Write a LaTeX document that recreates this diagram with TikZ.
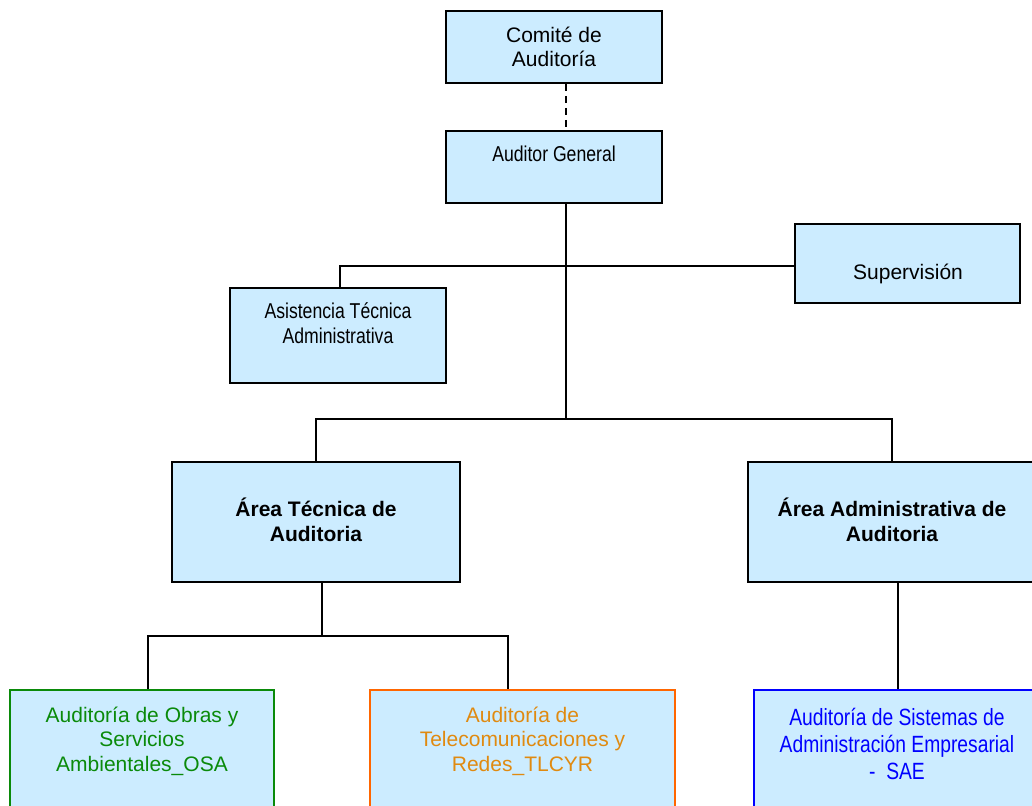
\documentclass[tikz,border=0pt]{standalone}
\usepackage{fontspec}
\setmainfont{Liberation Sans}
\newfontfamily\narrowfont[FakeStretch=0.82]{Liberation Sans}
\definecolor{boxfill}{HTML}{CCECFF}
\definecolor{osagreen}{HTML}{0A8A0A}
\definecolor{tlcborder}{HTML}{FF6600}
\definecolor{tlctext}{HTML}{E08A10}
\definecolor{saeblue}{HTML}{0000FF}
\newcommand{\mlines}[1]{\begin{tabular}[t]{@{}c@{}}#1\end{tabular}}
\begin{document}
\begin{tikzpicture}[x=1pt,y=-1pt,
  box/.style={draw=black, line width=2pt, fill=boxfill, inner sep=0pt},
  wh/.style 2 args={minimum width=#1pt, minimum height=#2pt},
  txt/.style={anchor=base, inner sep=0pt, font=\fontsize{21}{24.3}\selectfont},
  narrowtxt/.style={anchor=base, inner sep=0pt, font=\narrowfont\fontsize{21.5}{25}\selectfont},
  boldtxt/.style={anchor=base, inner sep=0pt, font=\bfseries\fontsize{21}{24.3}\selectfont},
  conn/.style={draw=black, line width=2pt},
  dashconn/.style={draw=black, line width=2pt, dash pattern=on 7pt off 5pt}]
\useasboundingbox (0,0) rectangle (1032,805);

% boxes
\node[box, wh={216}{72}] (comite) at (554,47) {};
\node[box, wh={216}{72}] (ag) at (554,167) {};
\node[box, wh={225}{79}] (sup) at (907.5,263.5) {};
\node[box, wh={216}{95}] (asis) at (338,335.5) {};
\node[box, wh={288}{120}] (tec) at (316,522) {};
\node[box, wh={288}{120}] (adm) at (892,522) {};
\node[box, draw=osagreen, wh={264}{140}] (obras) at (142,760) {};
\node[box, draw=tlcborder, wh={305}{140}] (telecom) at (522.5,760) {};
\node[box, draw=saeblue, wh={286}{140}] (sae) at (897,760) {};

% texts
\node[txt, font=\fontsize{21}{23.5}\selectfont] (tcomite) at (554,42.7) {\mlines{Comité de\\Auditoría}};
\node[narrowtxt] (tag) at (554,162) {Auditor General};
\node[txt] (tsup) at (908,279) {Supervisión};
\node[narrowtxt] (tasis) at (338,318) {\mlines{Asistencia Técnica\\Administrativa}};
\node[boldtxt] (ttec) at (316,516.7) {\mlines{Área Técnica de\\Auditoria}};
\node[boldtxt] (tadm) at (892,516.7) {\mlines{Área Administrativa de\\Auditoria}};
\node[txt, text=osagreen, font=\fontsize{21}{24.5}\selectfont] (tobras) at (142,722) {\mlines{Auditoría de Obras y\\Servicios\\Ambientales\_OSA}};
\node[txt, text=tlctext, font=\fontsize{21}{24.5}\selectfont] (ttelecom) at (522.5,722) {\mlines{Auditoría de\\Telecomunicaciones y\\Redes\_TLCYR}};
\node[narrowtxt, text=saeblue, font=\narrowfont\fontsize{23.5}{27}\selectfont] (tsae) at (897,725) {\mlines{Auditoría de Sistemas de\\Administración Empresarial\\-\ \ SAE}};

% junction coordinates
\coordinate (j1) at (566,266);
\coordinate (j2) at (566,419);
\coordinate (a1) at (340,266);
\coordinate (b1) at (316,419);
\coordinate (b2) at (892,419);
\coordinate (c0) at (322,636);
\coordinate (c1) at (148,636);
\coordinate (c2) at (508,636);
\coordinate (d1) at (898,600);

% connectors
\draw[dashconn] (comite.south -| j1) -- (ag.north -| j1);
\draw[conn] (ag.south -| j1) -- (j2);
\draw[conn] (a1 |- asis.north) -- (a1) -- (sup.west |- a1);
\draw[conn] (tec.north -| b1) -- (b1) -- (b2) -- (adm.north -| b2);
\draw[conn] (tec.south -| c0) -- (c0);
\draw[conn] (obras.north -| c1) -- (c1) -- (c2) -- (telecom.north -| c2);
\draw[conn] (adm.south -| d1) -- (sae.north -| d1);
\end{tikzpicture}
\end{document}
